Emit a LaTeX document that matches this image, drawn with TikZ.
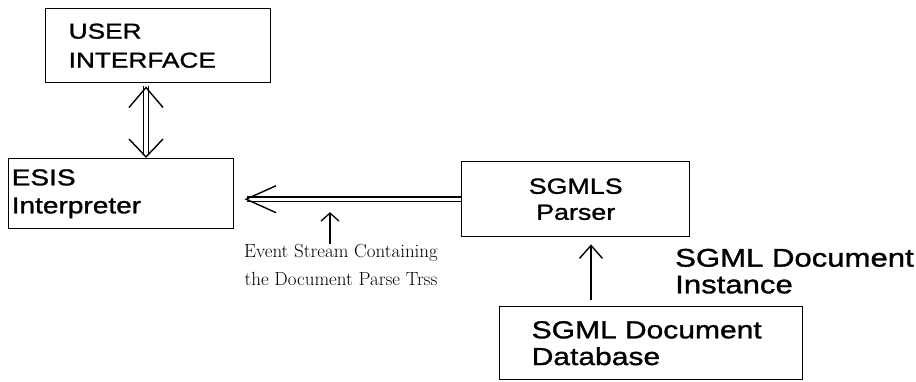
\documentclass[tikz,border=0pt]{standalone}
\usepackage{fontspec}
\newfontfamily\boxfont[FakeStretch=1.22, FakeBold=1.2]{Liberation Sans}
\usetikzlibrary{arrows.meta}
\begin{document}
\begin{tikzpicture}[x=1pt, y=-1pt,
    box/.style={draw, line width=1.4pt, anchor=north west, align=left, inner ysep=0pt},
    dbl/.style={double, double distance=3.4pt, line width=1.3pt},
    tips/.style={line width=1.4pt, dash pattern=on 0pt off 2000pt},
    sarrow/.style={line width=1.4pt, -{Straight Barb[length=13pt, width=23pt]}}]
  \useasboundingbox (0,0) rectangle (916,381);
  \node[box, minimum width=225pt, minimum height=74pt, text width=179pt, inner xsep=23pt,
        font=\boxfont\fontsize{21.5}{29}\selectfont] (ui) at (45,8) {USER\\INTERFACE};
  \node[box, minimum width=225pt, minimum height=70pt, text width=219pt, inner xsep=3pt,
        font=\boxfont\fontsize{23}{28}\selectfont] (esis) at (8,158) {ESIS\\Interpreter};
  \node[box, align=center, minimum width=228pt, minimum height=75pt, text width=208pt, inner xsep=10pt,
        font=\boxfont\fontsize{22}{26}\selectfont] (sgmls) at (461,161) {SGMLS\\Parser};
  \node[box, minimum width=303pt, minimum height=73pt, text width=239pt, inner xsep=32pt,
        font=\boxfont\fontsize{24.6}{26.7}\selectfont] (db) at (499,306) {SGML Document\\Database};
  \node[anchor=base west, align=left, inner sep=0pt,
        font=\boxfont\fontsize{25.5}{26.7}\selectfont] (inst) at (675,293.3) {SGML Document\\Instance};
  \node[anchor=base, align=center, inner sep=0pt,
        font=\fontsize{19}{28}\selectfont] (evt) at (341,285) {Event Stream Containing\\the Document Parse Trss};

  % user interface <-> interpreter
  \coordinate (uiB) at ([xshift=101pt]ui.south west);
  \coordinate (esisT) at ([xshift=138pt]esis.north west);
  \draw[dbl, shorten <=3pt, shorten >=3pt] (uiB) -- (esisT);
  \draw[tips, {Straight Barb[length=20pt, width=34pt]}-{Straight Barb[length=18pt, width=34pt]}] ([yshift=-3pt]uiB) -- (esisT);

  % parser -> interpreter
  \coordinate (esisR) at ([xshift=10pt]esis.east);
  \draw[dbl, shorten >=3pt] (sgmls.west) -- (sgmls.west -| esisR);
  \draw[tips, -{Straight Barb[length=30pt, width=27pt]}] (sgmls.west) -- (sgmls.west -| esisR);

  % event stream label
  \coordinate (evtA) at (330,244);
  \draw[line width=1.3pt, -{Straight Barb[length=8pt, width=18pt]}, shorten >=13pt] (evtA) -- (evtA |- sgmls.west);

  % database -> parser
  \coordinate (dbA) at (591,300);
  \draw[sarrow, shorten >=7pt] (dbA) -- (dbA |- sgmls.south);
\end{tikzpicture}
\end{document}
